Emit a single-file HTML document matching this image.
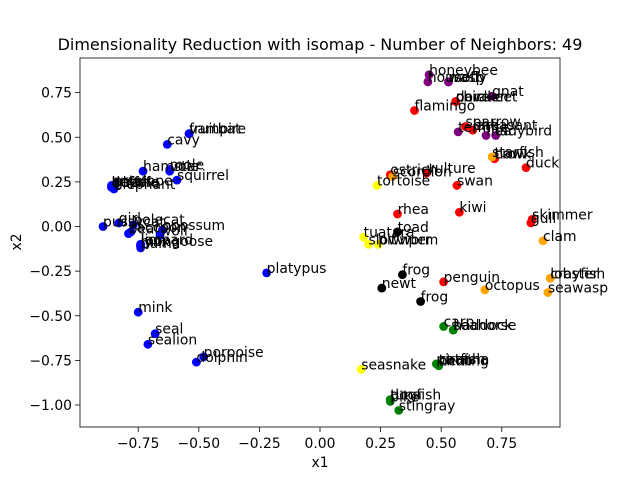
<!DOCTYPE html>
<html><head><meta charset="utf-8"><style>
body{margin:0;background:#fff}
svg text{font-family:"DejaVu Sans","Liberation Sans",sans-serif}
</style></head><body>
<svg id="chart" width="640" height="480" viewBox="0 0 640 480" xmlns="http://www.w3.org/2000/svg">
<rect width="640" height="480" fill="#fff"/>
<text x="320" y="50" text-anchor="middle" font-size="16">Dimensionality Reduction with isomap - Number of Neighbors: 49</text>
<g id="ticks"></g>
<g id="marks"></g>
<rect x="80" y="58" width="480" height="369" fill="none" stroke="#000" stroke-width="0.8"/>
<text x="320" y="467" text-anchor="middle" font-size="13.9">x1</text>
<text transform="translate(21,242) rotate(-90)" text-anchor="middle" font-size="13.9">x2</text>
</svg>
<script>
const labels=["fruitbat","vampire","cavy","hamster","mole","vole","squirrel","antelope","buffalo","deer","elephant","giraffe","oryx","pussycat","girl","polecat","bear","raccoon","opossum","wolf","lion","mongoose","leopard","lynx","puma","platypus","mink","seal","sealion","dolphin","porpoise",
"honeybee","housefly","wasp","moth","gnat","termite","flea","ladybird",
"flamingo","chicken","dove","parakeet","sparrow","lark","pheasant","hawk","crow","duck","ostrich","vulture","swan","rhea","kiwi","skimmer","gull","penguin",
"starfish","scorpion","clam","octopus","lobster","crayfish","seawasp",
"tortoise","tuatara","slowworm","pitviper","seasnake",
"toad","frog","newt","frog",
"carp","seahorse","haddock","herring","catfish","chub","piranha","tuna","pike","dogfish","stingray"];
const xs=[-0.54,-0.54,-0.63,-0.73,-0.62,-0.62,-0.59,-0.86,-0.86,-0.86,-0.85,-0.85,-0.85,-0.895,-0.83,-0.77,-0.79,-0.78,-0.65,-0.66,-0.74,-0.74,-0.74,-0.74,-0.74,-0.22,-0.75,-0.68,-0.71,-0.51,-0.48,
0.45,0.445,0.53,0.53,0.71,0.57,0.685,0.725,
0.39,0.56,0.56,0.56,0.60,0.63,0.63,0.72,0.72,0.85,0.29,0.44,0.565,0.32,0.575,0.875,0.87,0.51,
0.71,0.30,0.92,0.68,0.95,0.95,0.94,
0.235,0.18,0.20,0.24,0.17,
0.32,0.34,0.255,0.415,
0.51,0.55,0.55,0.49,0.49,0.49,0.48,0.29,0.29,0.29,0.325];
const ys=[0.52,0.52,0.46,0.31,0.32,0.31,0.26,0.23,0.22,0.22,0.21,0.22,0.23,0.0,0.02,0.01,-0.04,-0.03,-0.02,-0.05,-0.10,-0.11,-0.10,-0.11,-0.12,-0.26,-0.48,-0.60,-0.66,-0.76,-0.73,
0.85,0.81,0.81,0.81,0.73,0.53,0.51,0.51,
0.65,0.70,0.70,0.70,0.56,0.54,0.54,0.38,0.38,0.33,0.29,0.30,0.23,0.07,0.08,0.04,0.02,-0.31,
0.39,0.28,-0.08,-0.355,-0.29,-0.29,-0.37,
0.23,-0.06,-0.10,-0.10,-0.80,
-0.03,-0.27,-0.345,-0.42,
-0.56,-0.58,-0.58,-0.78,-0.77,-0.78,-0.77,-0.97,-0.98,-0.97,-1.03];
const groups=[0,0,0,0,0,0,0,0,0,0,0,0,0,0,0,0,0,0,0,0,0,0,0,0,0,0,0,0,0,0,0,
1,1,1,1,1,1,1,1,
2,2,2,2,2,2,2,2,2,2,2,2,2,2,2,2,2,2,
3,3,3,3,3,3,3,
4,4,4,4,4,
5,5,5,5,
6,6,6,6,6,6,6,6,6,6,6];
const groupColors=["#0000ff","#800080","#ff0000","#ffa500","#ffff00","#000000","#008000"];
const xTicks=[-0.75,-0.5,-0.25,0,0.25,0.5,0.75];
const yTicks=[0.75,0.5,0.25,0,-0.25,-0.5,-0.75,-1.0];
const NS="http://www.w3.org/2000/svg";
function sx(v){return 320+v*242.4;}
function sy(v){return 226.5-v*178.5;}
function fmt(v){return (v<0?"\u2212":"")+Math.abs(v).toFixed(2);}
const tg=document.getElementById("ticks");
xTicks.forEach(v=>{
  const l=document.createElementNS(NS,"line");
  l.setAttribute("x1",sx(v));l.setAttribute("x2",sx(v));l.setAttribute("y1",427);l.setAttribute("y2",432);l.setAttribute("stroke","#000");l.setAttribute("stroke-width","0.8");
  
  
  tg.appendChild(l);
  const t=document.createElementNS(NS,"text");
  t.setAttribute("x",sx(v));t.setAttribute("y",448);t.setAttribute("text-anchor","middle");t.setAttribute("font-size","13.9");t.textContent=fmt(v);
  
  
  tg.appendChild(t);
});
yTicks.forEach(v=>{
  const l=document.createElementNS(NS,"line");
  l.setAttribute("x1",75);l.setAttribute("x2",80);l.setAttribute("y1",sy(v));l.setAttribute("y2",sy(v));l.setAttribute("stroke","#000");l.setAttribute("stroke-width","0.8");
  
  
  tg.appendChild(l);
  const t=document.createElementNS(NS,"text");
  t.setAttribute("x",72);t.setAttribute("y",sy(v)+5);t.setAttribute("text-anchor","end");t.setAttribute("font-size","13.9");t.textContent=fmt(v);
  
  
  tg.appendChild(t);
});
const mg=document.getElementById("marks");
for(let i=0;i<labels.length;i++){
  const c=document.createElementNS(NS,"circle");
  c.setAttribute("cx",sx(xs[i]));c.setAttribute("cy",sy(ys[i]));c.setAttribute("r",4.4);c.setAttribute("fill",groupColors[groups[i]]);
  
  
  mg.appendChild(c);
}
for(let i=0;i<labels.length;i++){
  const t=document.createElementNS(NS,"text");
  t.setAttribute("x",sx(xs[i]));t.setAttribute("y",sy(ys[i]));t.setAttribute("font-size","13.9");t.textContent=labels[i];
  
  
  mg.appendChild(t);
}
</script>
</body></html>
